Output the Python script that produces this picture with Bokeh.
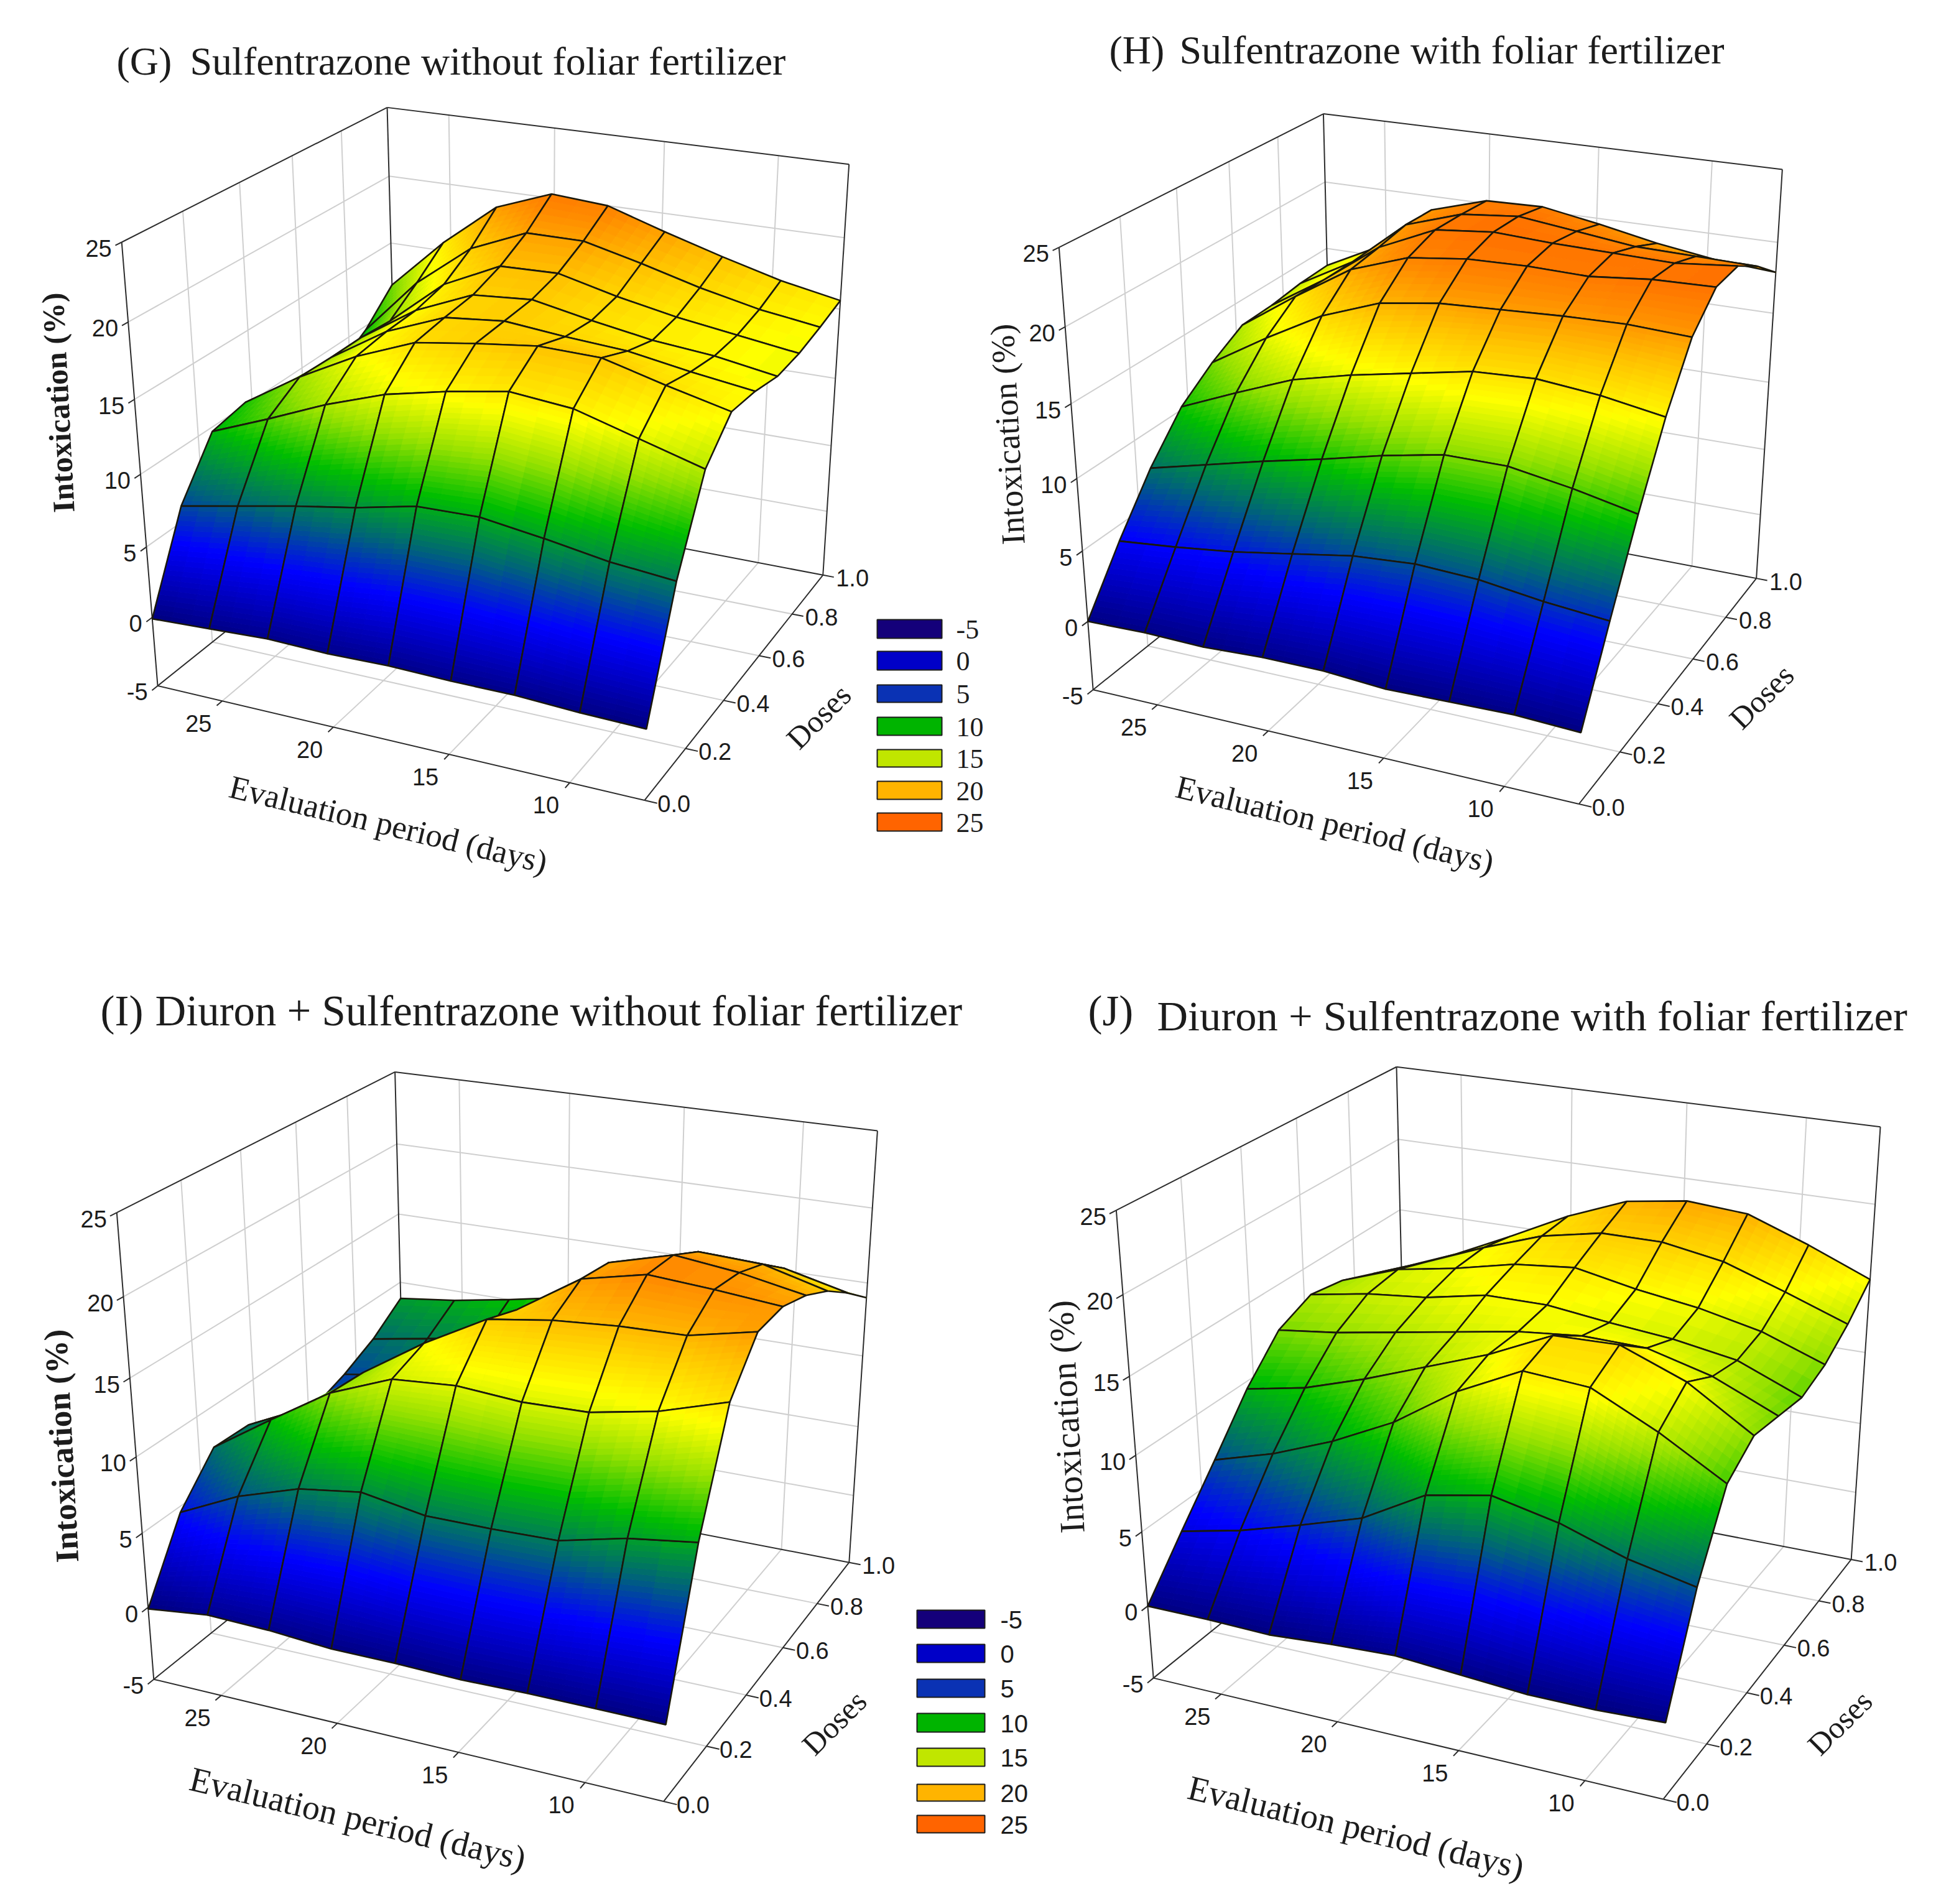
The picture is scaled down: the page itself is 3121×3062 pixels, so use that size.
import numpy as np
from bokeh.plotting import figure
from bokeh.models import Range1d, ColumnDataSource
from bokeh.core.properties import value
from bokeh.embed import file_html
from bokeh.resources import INLINE

# ------------------------------------------------------------------ data
days = [28.0, 25.375, 22.75, 20.125, 17.5, 14.875, 12.25, 9.625, 7.0]
doses = [0.0, 0.125, 0.25, 0.375, 0.5, 0.625, 0.75, 0.875, 1.0]
x_ticks = [25, 20, 15, 10]
y_ticks = [0.0, 0.2, 0.4, 0.6, 0.8, 1.0]
z_ticks = [-5, 0, 5, 10, 15, 20, 25]
legend_levels = ["-5", "0", "5", "10", "15", "20", "25"]

intox_G = [
    [-0.1, 0.1, 0.3, 0.2, 0.3, 0.2, 0.2, 0.0, -0.1],
    [6.1, 6.9, 7.7, 8.4, 9.3, 9.4, 8.8, 8.1, 7.7],
    [9.7, 11.3, 13.0, 14.4, 15.3, 16.0, 15.6, 14.4, 13.2],
    [10.2, 12.7, 14.8, 16.4, 17.0, 17.5, 17.4, 16.3, 15.3],
    [9.4, 12.6, 15.1, 16.7, 17.1, 16.7, 16.4, 15.7, 15.1],
    [8.4, 12.6, 15.2, 16.9, 17.2, 16.4, 15.7, 15.3, 14.6],
    [8.3, 12.4, 15.7, 17.6, 17.7, 16.7, 15.9, 15.3, 14.7],
    [9.7, 13.9, 17.0, 18.7, 18.7, 17.7, 16.6, 15.7, 15.1],
    [11.8, 15.6, 18.8, 20.3, 20.0, 18.7, 17.5, 16.4, 15.6],
]
intox_H = [
    [0.0, 0.1, 0.0, 0.2, 0.2, -0.1, 0.0, 0.1, -0.1],
    [3.9, 4.3, 4.8, 5.5, 6.2, 6.5, 6.3, 5.7, 5.3],
    [7.4, 8.4, 9.4, 10.3, 11.3, 12.1, 12.1, 11.4, 10.5],
    [10.2, 11.9, 13.5, 14.5, 15.3, 16.1, 16.3, 15.9, 15.2],
    [11.9, 14.3, 16.5, 18.0, 18.6, 18.8, 19.0, 19.1, 18.9],
    [13.2, 15.9, 18.4, 19.8, 20.3, 20.4, 20.3, 20.7, 20.8],
    [13.3, 15.8, 18.7, 20.5, 20.9, 20.7, 20.6, 20.5, 20.9],
    [13.6, 15.8, 19.1, 20.4, 20.8, 20.3, 19.8, 19.7, 19.6],
    [13.7, 15.7, 19.0, 20.2, 20.3, 19.6, 18.8, 18.2, 17.9],
]
intox_I = [
    [-0.1, 0.4, 0.3, 0.0, 0.0, -0.1, 0.0, 0.0, 0.0],
    [4.6, 6.5, 7.8, 8.4, 7.7, 7.7, 7.8, 8.8, 9.4],
    [7.3, 9.9, 12.4, 14.0, 14.3, 14.0, 14.1, 14.9, 16.2],
    [7.2, 9.1, 12.2, 14.8, 17.0, 17.6, 17.9, 18.0, 18.9],
    [5.5, 6.4, 8.0, 11.0, 16.2, 18.8, 19.7, 19.4, 19.0],
    [5.3, 5.9, 6.7, 8.4, 13.8, 18.5, 19.6, 19.1, 18.3],
    [6.1, 6.7, 7.3, 8.2, 12.6, 17.3, 18.5, 18.3, 17.2],
    [7.2, 7.9, 8.6, 9.4, 11.8, 15.9, 16.9, 16.7, 15.7],
    [8.8, 9.3, 10.0, 10.8, 11.7, 14.4, 15.1, 14.4, 14.0],
]
intox_J = [
    [0.0, 0.0, -0.1, 0.2, 0.4, 0.1, -0.2, -0.2, 0.0],
    [3.2, 4.1, 5.3, 6.6, 8.9, 9.7, 8.8, 7.4, 6.5],
    [6.3, 7.5, 9.1, 11.1, 13.8, 15.8, 15.5, 13.5, 11.1],
    [9.5, 10.3, 11.6, 13.1, 14.6, 16.5, 16.6, 15.0, 12.4],
    [12.0, 12.5, 13.2, 13.9, 14.6, 15.0, 14.9, 13.8, 12.0],
    [13.0, 13.7, 14.1, 14.9, 14.9, 14.4, 14.0, 13.3, 11.6],
    [12.6, 14.0, 14.7, 15.6, 16.0, 15.2, 14.6, 13.7, 12.2],
    [11.7, 13.2, 14.8, 16.2, 17.0, 17.0, 16.3, 14.9, 13.4],
    [10.8, 12.4, 14.3, 16.3, 17.9, 18.5, 18.2, 16.7, 15.0],
]

# ------------------------------------------------------------------ camera
XMAX, XMIN, ZMIN, ZMAX = 28.0, 7.0, -5.0, 25.0
WORLD = [(28, 0, 25), (28, 1, 25), (7, 1, 25), (28, 0, -5), (7, 0, -5), (7, 1, -5), (28, 0, 0),
         (25, 0, -5), (10, 0, -5), (7, .2, -5), (7, .8, -5)]
CAMERA = {
    "G": [(195, 390), (623, 172), (1364, 263), (251, 1102), (1035, 1286), (1321, 923), (243, 994),
          (360, 1125), (913, 1258), (1106, 1203), (1274, 990)],
    "H": [(1702, 398), (2128, 182), (2865, 272), (1759, 1108), (2540, 1293), (2822, 929), (1749, 999),
          (1858, 1134), (2416, 1263), (2605, 1208), (2776, 994)],
    "I": [(187, 1950), (635, 1723), (1410, 1818), (247, 2699), (1065, 2895), (1361, 2512), (239, 2586),
          (353, 2726), (940, 2866), (1137, 2809), (1318, 2579)],
    "J": [(1794, 1946), (2245, 1715), (3023, 1812), (1855, 2697), (2674, 2890), (2973, 2507), (1847, 2582),
          (1960, 2726), (2547, 2863), (2744, 2807), (2928, 2574)],
}


def unit(x, y, z):
    return (x - XMIN) / (XMAX - XMIN), y, (z - ZMIN) / (ZMAX - ZMIN)


def camera(img):
    A = []
    for (u, v), w in zip(img, WORLD):
        X, Y, Z = unit(*w)
        A.append([X, Y, Z, 1, 0, 0, 0, 0, -u * X, -u * Y, -u * Z, -u])
        A.append([0, 0, 0, 0, X, Y, Z, 1, -v * X, -v * Y, -v * Z, -v])
    _, _, V = np.linalg.svd(np.array(A))
    return V[-1].reshape(3, 4)


def project(P, x, y, z):
    X, Y, Z = unit(x, y, z)
    h = P @ np.array([X, Y, Z, 1.0])
    return h[0] / h[2], h[1] / h[2], h[2]


STOPS_Z = [-5, 0, 4.2, 7, 10, 12.5, 15, 17.5, 19.5, 21.5, 25]
STOPS_C = [(0, 0, 80), (0, 0, 130), (0, 0, 255), (0, 100, 120), (0, 190, 0), (150, 225, 0), (255, 255, 0),
           (255, 195, 0), (255, 140, 0), (255, 100, 0), (255, 80, 0)]


def colour(z):
    rgb = [int(round(np.interp(z, STOPS_Z, [c[k] for c in STOPS_C]))) for k in range(3)]
    return "#%02x%02x%02x" % tuple(rgb)


W, H = 3105, 3046
p = figure(width=W, height=H, output_backend="svg", toolbar_location=None,
           x_range=Range1d(0, W), y_range=Range1d(H, 0),
           x_axis_location=None, y_axis_location=None, min_border=0, outline_line_color=None)
p.grid.visible = False
p.background_fill_color = "white"
p.border_fill_color = "white"

SANS = "Liberation Sans"
SERIF = "Liberation Serif"
INK = "#1c1c1c"


def label(x, y, txt, size, font=SANS, angle=0.0, align="center", baseline="middle", style="normal", color=INK):
    p.text([x], [y], text=[txt], text_font=value(font), text_font_size=value("%.1fpx" % size),
           text_align=align, text_baseline=baseline, angle=np.deg2rad(angle), text_font_style=style,
           text_color=color)


def panel(key, z_table):
    P = camera(CAMERA[key])
    pr = lambda x, y, z: project(P, x, y, z)[:2]

    def seg(a, b):
        pa, pb = pr(*a), pr(*b)
        return [pa[0], pb[0]], [pa[1], pb[1]]

    gx, gy = [], []
    for xt in x_ticks:
        for a, b in [((xt, 0, ZMIN), (xt, 1, ZMIN)), ((xt, 1, ZMIN), (xt, 1, ZMAX))]:
            s = seg(a, b); gx.append(s[0]); gy.append(s[1])
    for yt in y_ticks[1:-1]:
        for a, b in [((XMIN, yt, ZMIN), (XMAX, yt, ZMIN)), ((XMAX, yt, ZMIN), (XMAX, yt, ZMAX))]:
            s = seg(a, b); gx.append(s[0]); gy.append(s[1])
    for zt in z_ticks[1:-1]:
        for a, b in [((XMAX, 0, zt), (XMAX, 1, zt)), ((XMAX, 1, zt), (XMIN, 1, zt))]:
            s = seg(a, b); gx.append(s[0]); gy.append(s[1])
    p.multi_line(gx, gy, line_color="#cfcfcf", line_width=2)

    fx, fy = [], []
    c = lambda xx, yy, zz: (xx, yy, zz)
    edges = [
        (c(XMAX, 0, ZMAX), c(XMAX, 1, ZMAX)), (c(XMAX, 1, ZMAX), c(XMIN, 1, ZMAX)),
        (c(XMIN, 1, ZMAX), c(XMIN, 1, ZMIN)), (c(XMAX, 0, ZMAX), c(XMAX, 0, ZMIN)),
        (c(XMAX, 0, ZMIN), c(XMIN, 0, ZMIN)), (c(XMIN, 0, ZMIN), c(XMIN, 1, ZMIN)),
        (c(XMAX, 1, ZMAX), c(XMAX, 1, ZMIN)), (c(XMAX, 0, ZMIN), c(XMAX, 1, ZMIN)),
        (c(XMAX, 1, ZMIN), c(XMIN, 1, ZMIN)),
    ]
    for xt in x_ticks:
        edges.append((c(xt, 0, ZMIN), c(xt, -0.02, ZMIN)))
    for yt in y_ticks:
        edges.append((c(XMIN, yt, ZMIN), c(XMIN - 0.5, yt, ZMIN)))
    for zt in z_ticks:
        edges.append((c(XMAX, 0, zt), c(XMAX, -0.02, zt)))
    for a, b in edges:
        s = seg(a, b); fx.append(s[0]); fy.append(s[1])
    p.multi_line(fx, fy, line_color="#2c2c2c", line_width=2)

    for xt in x_ticks:
        tx, ty = pr(xt, 0, ZMIN)
        label(tx - 38, ty + 36, str(xt), 38)
    for yt in y_ticks:
        tx, ty = pr(XMIN, yt, ZMIN)
        label(tx + 21, ty + 5, "%.1f" % yt, 38, align="left")
    for zt in z_ticks:
        tx, ty = pr(XMAX, 0, zt)
        label(tx - 16, ty + 10, str(zt), 38, align="right")

    Z = np.array(z_table)
    rows, cols = Z.shape
    cells = []
    for j in range(rows - 1):
        for i in range(cols - 1):
            mid = (days[i] + days[i + 1]) / 2, (doses[j] + doses[j + 1]) / 2, Z[j:j + 2, i:i + 2].mean()
            cells.append((project(P, *mid)[2], i, j))
    near = project(P, XMIN, 0, 0)[2]
    far = project(P, XMAX, 1, 0)[2]
    cells.sort(key=lambda t: t[0], reverse=far > near)
    STEP = 0.3
    xs, ys, fill, falpha, lcol, lw = [], [], [], [], [], []
    for _, i, j in cells:
        def at(s, t):
            zz = ((1 - s) * (1 - t) * Z[j, i] + s * (1 - t) * Z[j, i + 1]
                  + (1 - s) * t * Z[j + 1, i] + s * t * Z[j + 1, i + 1])
            xx = days[i] + s * (days[i + 1] - days[i])
            yy = doses[j] + t * (doses[j + 1] - doses[j])
            return xx, yy, zz
        ds = max(abs(Z[j, i + 1] - Z[j, i]), abs(Z[j + 1, i + 1] - Z[j + 1, i]))
        dt = max(abs(Z[j + 1, i] - Z[j, i]), abs(Z[j + 1, i + 1] - Z[j, i + 1]))
        Ns = int(min(30, max(1, np.ceil(ds / STEP))))
        Nt = int(min(30, max(1, np.ceil(dt / STEP))))
        for a in range(Ns):
            for b in range(Nt):
                corners = [at(a / Ns, b / Nt), at((a + 1) / Ns, b / Nt),
                           at((a + 1) / Ns, (b + 1) / Nt), at(a / Ns, (b + 1) / Nt)]
                pts = [pr(*q) for q in corners]
                col = colour(np.mean([q[2] for q in corners]))
                xs.append([q[0] for q in pts]); ys.append([q[1] for q in pts])
                fill.append(col); falpha.append(1.0); lcol.append(col); lw.append(1.0)
        pts = [pr(*at(s, t)) for s, t in [(0, 0), (1, 0), (1, 1), (0, 1)]]
        xs.append([q[0] for q in pts]); ys.append([q[1] for q in pts])
        fill.append("#000000"); falpha.append(0.0); lcol.append("#1a180c"); lw.append(2.6)
    src = ColumnDataSource(dict(xs=xs, ys=ys, fill=fill, falpha=falpha, lcol=lcol, lw=lw))
    p.patches("xs", "ys", source=src, fill_color="fill", fill_alpha="falpha", line_color="lcol", line_width="lw")


panel("G", intox_G)
panel("H", intox_H)
panel("I", intox_I)
panel("J", intox_J)

# titles
label(187, 98, "(G)", 64, SERIF, align="left")
label(305, 98, "Sulfentrazone without foliar fertilizer", 64, SERIF, align="left")
label(1783, 80, "(H)", 64, SERIF, align="left")
label(1896, 80, "Sulfentrazone with foliar fertilizer", 64, SERIF, align="left")
label(161, 1625, "(I)", 69, SERIF, align="left")
label(249, 1625, "Diuron + Sulfentrazone without foliar fertilizer", 68.8, SERIF, align="left")
label(1749, 1625, "(J)", 69, SERIF, align="left")
label(1860, 1633, "Diuron + Sulfentrazone with foliar fertilizer", 68.6, SERIF, align="left")

# axis titles
label(93, 647, "Intoxication (%)", 50, SERIF, angle=93, style="bold")
label(1620, 698, "Intoxication (%)", 54, SERIF, angle=93)
label(98, 2325, "Intoxication (%)", 53, SERIF, angle=93, style="bold")
label(1714, 2278, "Intoxication (%)", 57, SERIF, angle=93)
for cx, cy, fs in [(624, 1325, 53), (2146, 1325, 53), (575, 2924, 56), (2180, 2938, 56)]:
    label(cx, cy, "Evaluation period (days)", fs, SERIF, angle=-13.6)
for cx, cy in [(1316, 1152), (2832, 1120), (1341, 2770), (2958, 2770)]:
    label(cx, cy, "Doses", 50, SERIF, angle=45)

# legends
LEG = ["#14007a", "#0000c8", "#0a32b4", "#00b400", "#c0e600", "#ffb400", "#ff6400"]
tops = [996, 1047, 1101, 1153, 1205, 1256, 1307]
bots = [1026, 1077, 1129, 1182, 1233, 1285, 1336]
p.quad(left=[1410] * 7, right=[1514] * 7, top=tops, bottom=bots, fill_color=LEG, line_color="#1c1c1c", line_width=2)
for t, b, s in zip(tops, bots, legend_levels):
    label(1537, (t + b) / 2 + 1, s, 44, SERIF, align="left")
tops = [2589, 2644, 2700, 2755, 2811, 2869, 2919]
bots = [2618, 2673, 2729, 2785, 2840, 2896, 2947]
p.quad(left=[1474] * 7, right=[1583] * 7, top=tops, bottom=bots, fill_color=LEG, line_color="#1c1c1c", line_width=2)
for t, b, s in zip(tops, bots, legend_levels):
    label(1608, (t + b) / 2 + 1, s, 40, SANS, align="left")

open("out.html", "w").write(file_html(p, INLINE))
